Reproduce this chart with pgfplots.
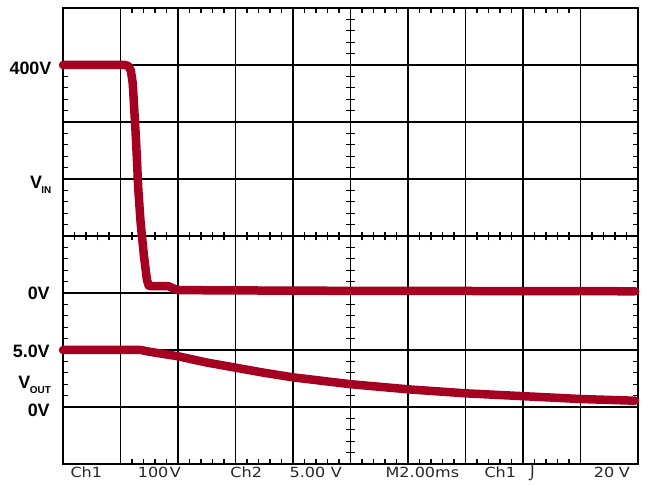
\documentclass[border=0pt]{standalone}
\usepackage{pgfplots}
\pgfplotsset{compat=1.18}
\usepackage{fontspec}
\setmainfont{Liberation Sans}
\newfontfamily\scopefont{DejaVu Sans}[FakeStretch=1.15]
\definecolor{trace}{RGB}{165,0,33}

% V_IN and V_OUT labels
\newcommand{\lbl}[2]{V\kern-0.5bp\raisebox{-5bp}{\fontsize{10}{10}\selectfont #2}}

\begin{document}
\begin{tikzpicture}
\begin{axis}[
    scale only axis,
    width=575bp, height=456bp,
    xmin=0, xmax=10, ymin=-4, ymax=4,
    xtick={1,...,9}, ytick={-3,...,3},
    xticklabels={}, yticklabels={},
    major tick length=0pt,
    minor x tick num=4, minor y tick num=4,
    minor tick length=5bp,
    tick align=inside,
    tick style={black, line width=1.1bp},
    grid=major,
    major grid style={black, line width=1.3bp},
    axis line style={black, line width=2.6bp},
    clip=false,
    every node/.style={inner sep=0pt},
]
\coordinate (sw) at (rel axis cs:0,0);
\coordinate (ne) at (rel axis cs:1,1);

% centre lines with their small ticks
\draw[black, line width=1.9bp] (axis cs:5,-4) -- (axis cs:5,4);
\draw[black, line width=1.9bp] (axis cs:0,0) -- (axis cs:10,0);
\pgfplotsinvokeforeach{1,...,49}{
  \draw[black, line width=1.1bp] (axis cs:#1/5,-0.075) -- (axis cs:#1/5,0.075);
}
\pgfplotsinvokeforeach{1,...,39}{
  \draw[black, line width=1.1bp] (axis cs:4.925,-4+#1/5) -- (axis cs:5.075,-4+#1/5);
}

% VIN
\addplot[trace, line width=8.5bp, line cap=round, line join=round] coordinates {
  (0,3.0) (1.08,3.0) (1.14,2.98) (1.18,2.9) (1.21,2.7) (1.22,2.56)
  (1.27,1.68) (1.31,0.81) (1.35,0.23) (1.41,-0.37) (1.46,-0.77)
  (1.49,-0.87) (1.53,-0.88) (1.83,-0.88) (1.9,-0.91) (2.0,-0.95)
  (4.2,-0.96) (9.95,-0.97)
};
% VOUT
\addplot[trace, line width=8.5bp, line cap=round, line join=round] coordinates {
  (0,-2.0) (1.35,-2.0) (1.5,-2.03) (2.0,-2.11) (2.5,-2.22) (3.0,-2.31)
  (3.5,-2.40) (4.0,-2.48) (4.5,-2.54) (5.0,-2.60) (6.0,-2.69)
  (7.0,-2.76) (8.0,-2.81) (9.0,-2.86) (9.95,-2.89)
};

% left labels
\begin{scope}[font=\bfseries\fontsize{18}{18}\selectfont]
\node[anchor=base east] at (axis cs:-0.14,2.825) {400V};
\node[anchor=base east] at (axis cs:-0.14,0.84) {\lbl{V}{IN}};
\node[anchor=base east] at (axis cs:-0.17,-1.12) {0V};
\node[anchor=base east] at (axis cs:-0.17,-2.13) {5.0V};
\node[anchor=base east] at (axis cs:-0.15,-2.67) {\lbl{V}{OUT}};
\node[anchor=base east] at (axis cs:-0.17,-3.17) {0V};
\end{scope}

% scope readout
\begin{scope}[font=\scopefont\fontsize{14}{14}\selectfont, text=black!85]
\node[anchor=base west] at (axis cs:0.07,-4.24) {Ch1};
\node[anchor=base west] at (axis cs:1.24,-4.24) {100};
\node[anchor=base east] at (axis cs:2.11,-4.24) {V};
\node[anchor=base west] at (axis cs:2.85,-4.24) {Ch2};
\node[anchor=base west] at (axis cs:3.88,-4.24) {5.00};
\node[anchor=base east] at (axis cs:4.91,-4.24) {V};
\node[anchor=base west] at (axis cs:5.55,-4.24) {M2.00ms};
\node[anchor=base west] at (axis cs:7.27,-4.24) {Ch1};
\node[anchor=base west] at (axis cs:8.03,-4.24) {⌡};
\node[anchor=base west] at (axis cs:9.17,-4.24) {20};
\node[anchor=base east] at (axis cs:9.92,-4.24) {V};
\end{scope}
\end{axis}
\pgfresetboundingbox
\path ([shift={(-63bp,-21bp)}]sw) rectangle ([shift={(17bp,8bp)}]ne);
\end{tikzpicture}
\end{document}
